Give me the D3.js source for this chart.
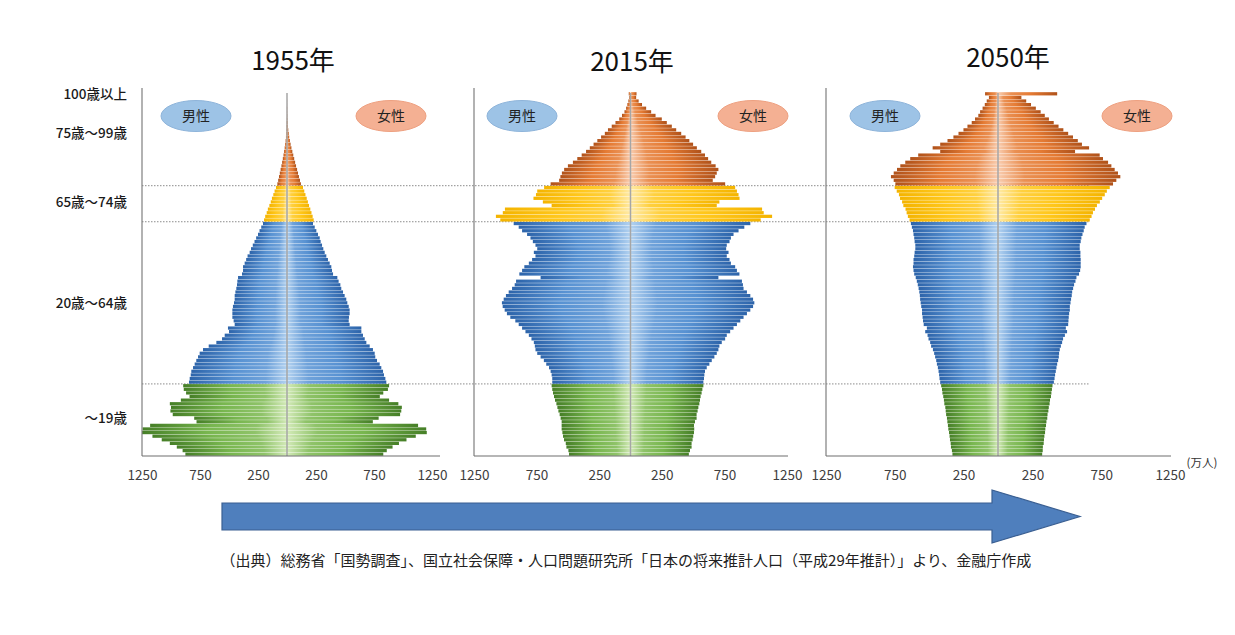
<!DOCTYPE html>
<html>
<head>
<meta charset="utf-8">
<script src="https://cdn.jsdelivr.net/npm/d3@7"></script>
<style>
  body { margin: 0; background: #fff; }
  text { font-family: "Noto Sans CJK JP", "Noto Sans", sans-serif; }
</style>
</head>
<body>
<div id="vis"></div>
<script>
// ---- data (axis units) ----
var years = ["1955年", "2015年", "2050年"];
var ages = d3.range(0, 101);            // 0..99 and 100 = 100歳以上
var tickValues = [-1250, -750, -250, 250, 750, 1250];

var groupLabels = ["～19歳", "20歳～64歳", "65歳～74歳", "75歳～99歳", "100歳以上"];
var groupStart  = [0, 20, 65, 75, 100];
var groupEnd    = [19, 64, 74, 99, 100];
var groupColor  = ["green", "blue", "yellow", "orange", "orange"];

var male1955 = [876, 900, 950, 1010, 1080, 1160, 1250, 1245, 1180, 780, 800, 985, 1005, 1000, 1010, 915, 840, 870, 890, 895,
  845, 839, 830, 825, 810, 796, 782, 767, 753, 724, 675, 609, 560, 537, 500, 509, 451, 460, 471, 471,
  471, 466, 457, 451, 451, 445, 437, 431, 428, 422, 388, 379, 379, 365, 352, 340, 322, 310, 295, 280,
  266, 250, 237, 222, 207,
  198, 188, 175, 165, 152, 140, 130, 118, 107, 95,
  83, 76, 69, 62, 55, 48, 42, 36, 30, 25, 20, 16, 12, 9, 7, 5, 4, 3, 2, 1, 1, 1, 0, 0, 0, 0];
var female1955 = [830, 860, 910, 965, 1030, 1110, 1205, 1200, 1130, 740, 790, 975, 985, 990, 960, 880, 800, 830, 870, 880,
  856, 848, 836, 828, 813, 799, 776, 761, 756, 741, 713, 684, 670, 655, 641, 641, 540, 532, 534, 540,
  540, 532, 520, 511, 497, 483, 468, 460, 445, 434, 397, 388, 382, 368, 353, 339, 325, 313, 302, 290,
  282, 267, 253, 239, 224,
  230, 221, 211, 201, 190, 180, 170, 159, 149, 138,
  120, 112, 103, 95, 87, 78, 70, 62, 54, 46, 38, 31, 25, 19, 15, 11, 8, 6, 4, 3, 2, 2, 1, 1, 0, 0];

var male2015 = [491, 496, 512, 517, 531, 539, 544, 550, 550, 550, 558, 566, 576, 584, 592, 603, 611, 619, 625, 630,
  625, 625, 630, 638, 651, 673, 692, 718, 745, 759, 764, 772, 791, 812, 839, 866, 893, 920, 960, 987,
  1005, 1021, 1027, 1013, 995, 973, 946, 925, 914, 718, 888, 866, 848, 812, 786, 759, 772, 745, 759, 780,
  799, 826, 866, 893, 933,
  1040, 1075, 1020, 1003, 630, 700, 775, 755, 745, 690,
  638, 570, 560, 548, 530, 500, 460, 425, 390, 355, 325, 295, 265, 235, 205, 180, 150, 120, 90, 68, 48, 35, 25, 17, 10, 14];
var female2015 = [466, 475, 488, 488, 496, 501, 507, 509, 507, 515, 528, 528, 536, 542, 550, 555, 560, 568, 574, 582,
  582, 587, 590, 595, 609, 630, 649, 670, 689, 702, 710, 729, 756, 769, 796, 823, 850, 877, 903, 930,
  957, 979, 989, 979, 957, 930, 903, 898, 890, 702, 870, 850, 836, 802, 791, 769, 783, 764, 769, 791,
  802, 823, 863, 909, 957,
  1040, 1131, 1064, 1051, 689, 710, 871, 863, 850, 836,
  756, 657, 676, 689, 702, 680, 645, 620, 595, 565, 530, 500, 470, 440, 405, 365, 330, 290, 250, 200, 165, 125, 92, 65, 45, 48];

var male2050 = [331, 335, 342, 344, 349, 352, 356, 361, 364, 368, 371, 377, 380, 383, 390, 393, 398, 404, 407, 413,
  420, 425, 428, 432, 437, 444, 449, 457, 464, 473, 486, 493, 505, 512, 529, 517, 540, 545, 548, 552,
  552, 558, 562, 566, 568, 572, 577, 583, 590, 598, 609, 614, 618, 614, 614, 609, 606, 601, 601, 606,
  609, 614, 618, 626, 633,
  643, 655, 664, 672, 688, 697, 712, 720, 736, 751,
  746, 758, 778, 758, 734, 710, 674, 638, 580, 420, 475, 420, 367, 324, 287, 251, 222, 191, 167, 143, 130, 112, 96, 82, 66, 94];
var female2050 = [321, 325, 326, 332, 334, 337, 342, 344, 349, 352, 358, 360, 366, 369, 375, 378, 385, 388, 392, 396,
  406, 411, 415, 420, 425, 430, 437, 442, 444, 449, 457, 466, 473, 486, 502, 493, 510, 512, 514, 517,
  522, 522, 527, 531, 536, 539, 546, 553, 563, 570, 589, 597, 601, 601, 601, 599, 599, 594, 594, 601,
  606, 614, 623, 630, 643,
  667, 680, 690, 705, 719, 740, 757, 776, 791, 812,
  836, 860, 889, 872, 848, 824, 800, 763, 739, 560, 662, 610, 580, 545, 510, 475, 440, 405, 370, 340, 310, 275, 240, 205, 170, 430];

var maleData = [male1955, male2015, male2050];
var femaleData = [female1955, female2015, female2050];

// ---- layout ----
var width = 1235, height = 635;
var plotTop = 92, plotBottom = 456;
var panels = [
  {x0: 142, x1: 432, axisEnd: 440, titleX: 293, titleY: 70, maleX: 196, femaleX: 391},
  {x0: 474, x1: 787, axisEnd: 788, titleX: 632, titleY: 71, maleX: 522, femaleX: 753},
  {x0: 826, x1: 1170, axisEnd: 1171, titleX: 1008, titleY: 67, maleX: 885, femaleX: 1137}
];
var labelAt = [10, 42, 70, 89, 100];

var palette = {
  green:  ["#d3eab8", "#78b64f", "#467f27"],
  blue:   ["#b3d2f0", "#5892d2", "#2d64aa"],
  yellow: ["#ffeaa6", "#ffc71c", "#f4b400"],
  orange: ["#f9cdb0", "#e57b34", "#b0521a"]
};

var svg = d3.select("#vis").append("svg")
  .attr("width", width)
  .attr("height", height);

var defs = svg.append("defs");
Object.keys(palette).forEach(function(k) {
  ["m", "f"].forEach(function(side) {
    var g = defs.append("linearGradient")
      .attr("id", "g-" + k + "-" + side)
      .attr("x1", side == "m" ? 1 : 0).attr("x2", side == "m" ? 0 : 1)
      .attr("y1", 0).attr("y2", 0);
    g.append("stop").attr("offset", "0%").attr("stop-color", palette[k][0]);
    g.append("stop").attr("offset", "22%").attr("stop-color", d3.interpolateRgb(palette[k][0], palette[k][1])(0.75));
    g.append("stop").attr("offset", "55%").attr("stop-color", palette[k][1]);
    g.append("stop").attr("offset", "100%").attr("stop-color", palette[k][2]);
  });
});

var y = d3.scaleBand()
  .domain(ages)
  .range([plotBottom, plotTop])
  .paddingInner(0.1)
  .paddingOuter(0.05);

function colorOf(age) {
  for (var i = 0; i < groupStart.length; i++) {
    if (age >= groupStart[i] && age <= groupEnd[i]) return groupColor[i];
  }
}
function boundary(age) { // line between age-1 and age
  return y(age) + y.bandwidth() + (y.step() - y.bandwidth()) / 2;
}

// dotted group boundaries, behind the bars
svg.append("g").selectAll("line")
  .data([20, 65, 75])
  .enter().append("line")
    .attr("x1", panels[0].x0).attr("x2", 1090)
    .attr("y1", function(d) { return boundary(d); })
    .attr("y2", function(d) { return boundary(d); })
    .attr("stroke", "#8c8c8c")
    .attr("stroke-width", 1)
    .attr("stroke-dasharray", "1.5,1.5");

panels.forEach(function(p, pi) {
  var x = d3.scaleLinear().domain([-1250, 1250]).range([p.x0, p.x1]);
  var g = svg.append("g").attr("class", "panel");
  var m = maleData[pi], f = femaleData[pi];

  // male bars (left)
  g.append("g").selectAll("rect")
    .data(ages.filter(function(a) { return m[a] > 0; }))
    .enter().append("rect")
      .attr("x", function(a) { return x(-m[a]); })
      .attr("y", function(a) { return y(a); })
      .attr("width", function(a) { return x(0) - x(-m[a]); })
      .attr("height", y.bandwidth())
      .attr("fill", function(a) { return "url(#g-" + colorOf(a) + "-m)"; });

  // female bars (right)
  g.append("g").selectAll("rect")
    .data(ages.filter(function(a) { return f[a] > 0; }))
    .enter().append("rect")
      .attr("x", x(0))
      .attr("y", function(a) { return y(a); })
      .attr("width", function(a) { return x(f[a]) - x(0); })
      .attr("height", y.bandwidth())
      .attr("fill", function(a) { return "url(#g-" + colorOf(a) + "-f)"; });

  // centre line
  g.append("line")
    .attr("x1", x(0)).attr("x2", x(0))
    .attr("y1", plotTop + 1).attr("y2", plotBottom)
    .attr("stroke", "#a6a6a6").attr("stroke-width", 1.5);

  // axis lines
  g.append("line")
    .attr("x1", p.x0).attr("x2", p.x0)
    .attr("y1", 88).attr("y2", plotBottom)
    .attr("stroke", "#7f7f7f").attr("stroke-width", 1.2);
  g.append("line")
    .attr("x1", p.x0).attr("x2", p.axisEnd)
    .attr("y1", plotBottom).attr("y2", plotBottom)
    .attr("stroke", "#6f6f6f").attr("stroke-width", 1.2);

  var axis = g.append("g")
    .attr("transform", "translate(0," + plotBottom + ")")
    .call(d3.axisBottom(x)
      .tickValues(tickValues)
      .tickFormat(function(d) { return Math.abs(d); })
      .tickSize(0)
      .tickPadding(14));
  axis.select(".domain").remove();
  axis.selectAll("text")
    .attr("font-family", "'Noto Sans CJK JP', sans-serif")
    .attr("font-size", 13.5)
    .attr("fill", "#404040");

  // title
  g.append("text")
    .attr("x", p.titleX).attr("y", p.titleY)
    .attr("text-anchor", "middle")
    .attr("font-size", 26)
    .attr("fill", "#111")
    .text(years[pi]);

  // sex labels
  [{cx: p.maleX, label: "男性", fill: "#9dc3e6", stroke: "#8eb4da"},
   {cx: p.femaleX, label: "女性", fill: "#f4b093", stroke: "#eea080"}].forEach(function(s) {
    g.append("ellipse")
      .attr("cx", s.cx).attr("cy", 116)
      .attr("rx", 35).attr("ry", 15.5)
      .attr("fill", s.fill).attr("stroke", s.stroke).attr("stroke-width", 1);
    g.append("text")
      .attr("x", s.cx).attr("y", 121)
      .attr("text-anchor", "middle")
      .attr("font-size", 14)
      .attr("fill", "#222")
      .text(s.label);
  });
});

// age group labels
svg.append("g").selectAll("text")
  .data(groupLabels)
  .enter().append("text")
    .attr("x", 127)
    .attr("y", function(d, i) { return y(labelAt[i]) + y.bandwidth() / 2 + 5; })
    .attr("text-anchor", "end")
    .attr("font-size", 13.5)
    .attr("font-weight", 500)
    .attr("fill", "#1a1a1a")
    .text(function(d) { return d; });

svg.append("text")
  .attr("x", 1202).attr("y", 467)
  .attr("text-anchor", "middle")
  .attr("font-size", 11.5)
  .attr("fill", "#333")
  .text("(万人)");

// time arrow
var arrow = {x0: 222, x1: 992, tip: 1080, yTop: 503, yBot: 530, headTop: 490, headBot: 543};
svg.append("path")
  .attr("d", "M" + arrow.x0 + "," + arrow.yTop + "L" + arrow.x1 + "," + arrow.yTop +
             "L" + arrow.x1 + "," + arrow.headTop + "L" + arrow.tip + "," + ((arrow.headTop + arrow.headBot) / 2) +
             "L" + arrow.x1 + "," + arrow.headBot + "L" + arrow.x1 + "," + arrow.yBot +
             "L" + arrow.x0 + "," + arrow.yBot + "Z")
  .attr("fill", "#4f7fbd")
  .attr("stroke", "#3a5f92")
  .attr("stroke-width", 1.2);

svg.append("text")
  .attr("x", 626).attr("y", 566)
  .attr("text-anchor", "middle")
  .attr("font-size", 15)
  .attr("fill", "#222")
  .text("（出典）総務省「国勢調査」、国立社会保障・人口問題研究所「日本の将来推計人口（平成29年推計）」より、金融庁作成");
</script>
</body>
</html>
